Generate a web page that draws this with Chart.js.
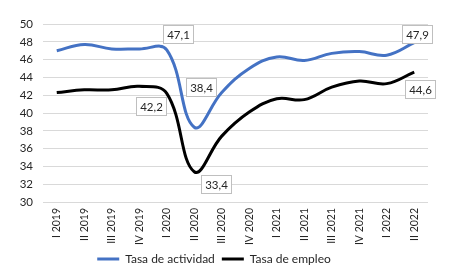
<!DOCTYPE html>
<html>
<head>
<meta charset="utf-8">
<script src="https://cdn.jsdelivr.net/npm/chart.js@4.4.1/dist/chart.umd.min.js"></script>
<style>
  body { margin: 0; background: #fff; }
  #wrap { width: 466px; height: 280px; }
</style>
</head>
<body>
<div id="wrap"><canvas id="grafico"></canvas></div>
<script>
// Datos
const trimestres = ['I 2019', 'II 2019', 'III 2019', 'IV 2019', 'I 2020', 'II 2020', 'III 2020',
    'IV 2020', 'I 2021', 'II 2021', 'III 2021', 'IV 2021', 'I 2022', 'II 2022'];
const tasaActividad = [47.0, 47.7, 47.2, 47.2, 47.1, 38.4, 42.3, 45.0, 46.3, 45.9, 46.7, 46.9, 46.5, 47.9];
const tasaEmpleo = [42.3, 42.6, 42.6, 43.0, 42.2, 33.4, 37.4, 40.1, 41.6, 41.5, 42.9, 43.6, 43.3, 44.6];
const ejeY = [30, 32, 34, 36, 38, 40, 42, 44, 46, 48, 50];

// trimestres que llevan etiqueta, con el desplazamiento de la caja (px)
const etiquetas = [
    { serie: 0, i: 4, dx: 11, dy: -16 },
    { serie: 0, i: 5, dx: 7, dy: -40 },
    { serie: 0, i: 13, dx: 3, dy: -9 },
    { serie: 1, i: 4, dx: -16, dy: 13 },
    { serie: 1, i: 5, dx: 22, dy: 12 },
    { serie: 1, i: 13, dx: 6, dy: 17 }
];

const fuente = 'Lato, "Open Sans", sans-serif';

// Plugin para dibujar las etiquetas con caja
const cajasEtiquetas = {
    id: 'cajasEtiquetas',
    afterDatasetsDraw(chart) {
        const ctx = chart.ctx;
        ctx.save();
        ctx.font = '11.5px ' + fuente;
        ctx.textAlign = 'center';
        ctx.textBaseline = 'middle';
        etiquetas.forEach(e => {
            const p = chart.getDatasetMeta(e.serie).data[e.i];
            const valor = chart.data.datasets[e.serie].data[e.i];
            const texto = valor.toFixed(1).replace('.', ',');
            const cx = p.x + e.dx;
            const cy = p.y + e.dy;
            const w = Math.round(ctx.measureText(texto).width + 7);
            const h = 18;
            const x0 = Math.round(cx - w / 2);
            const y0 = Math.round(cy - h / 2);
            ctx.fillStyle = '#fff';
            ctx.fillRect(x0, y0, w, h);
            ctx.strokeStyle = '#bfbfbf';
            ctx.lineWidth = 1;
            ctx.strokeRect(x0 + 0.5, y0 + 0.5, w, h);
            ctx.fillStyle = '#262626';
            ctx.fillText(texto, x0 + w / 2 + 0.5, y0 + h / 2 + 1);
        });
        ctx.restore();
    }
};

const config = {
    type: 'line',
    data: {
        labels: trimestres,
        datasets: [{
            label: 'Tasa de actividad',
            data: tasaActividad,
            borderColor: '#4472c4',
            backgroundColor: '#4472c4',
            borderWidth: 3,
            pointRadius: 0,
            tension: 0.4
        }, {
            label: 'Tasa de empleo',
            data: tasaEmpleo,
            borderColor: '#000000',
            backgroundColor: '#000000',
            borderWidth: 3,
            pointRadius: 0,
            tension: 0.4
        }]
    },
    options: {
        responsive: true,
        maintainAspectRatio: false,
        animation: false,
        layout: { padding: { left: 0, right: 38, top: 24, bottom: 5 } },
        plugins: {
            tooltip: { enabled: false },
            legend: {
                position: 'bottom',
                labels: {
                    usePointStyle: true,
                    pointStyle: 'line',
                    pointStyleWidth: 22,
                    padding: 7,
                    color: '#262626',
                    font: { family: fuente, size: 12 }
                }
            }
        },
        scales: {
            x: {
                offset: true,
                grid: { display: false, drawTicks: false },
                border: { display: false },
                ticks: {
                    minRotation: 90,
                    maxRotation: 90,
                    autoSkip: false,
                    padding: 6,
                    color: '#262626',
                    font: { family: fuente, size: 10.5 }
                },
                afterFit(scale) { scale.height = 44; }
            },
            y: {
                min: 30,
                max: 50,
                afterBuildTicks(scale) { scale.ticks = ejeY.map(v => ({ value: v })); },
                grid: { color: '#d9d9d9', drawTicks: false },
                border: { display: false },
                ticks: {
                    autoSkip: false,
                    padding: 10,
                    color: '#262626',
                    font: { family: fuente, size: 11.5 }
                },
                afterFit(scale) { scale.width = 43; }
            }
        }
    },
    plugins: [cajasEtiquetas]
};

// Crear la gráfica
const grafico = new Chart(document.getElementById('grafico'), config);
</script>
</body>
</html>
